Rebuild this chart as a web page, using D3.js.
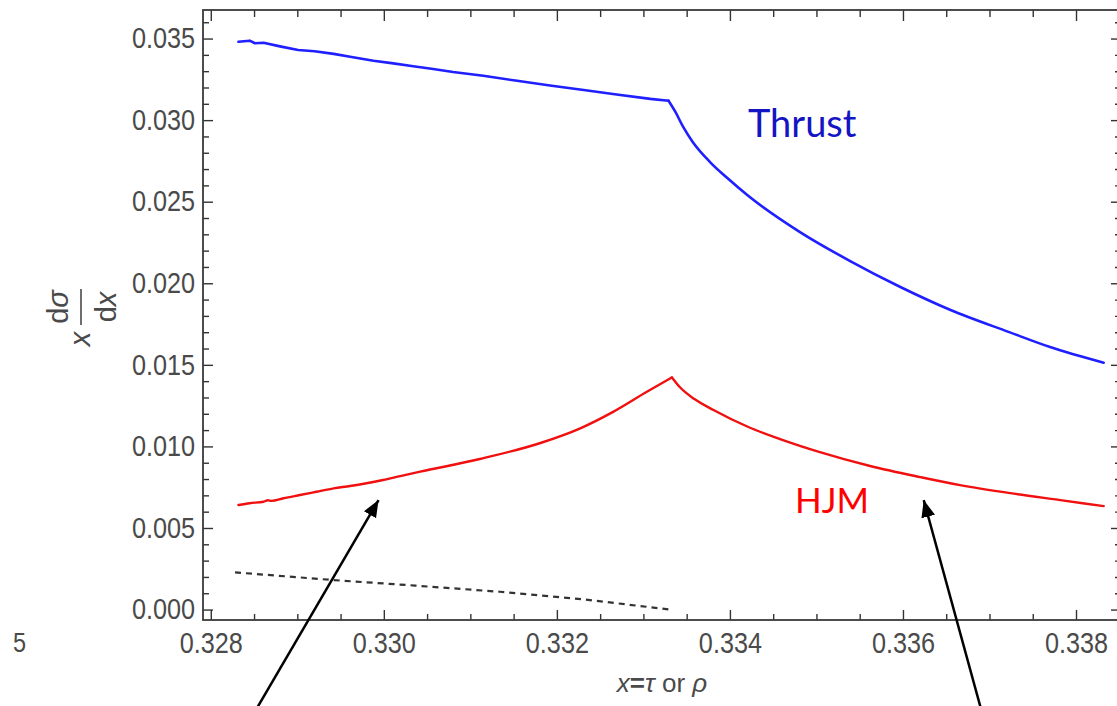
<!DOCTYPE html>
<html><head><meta charset="utf-8">
<script src="https://cdn.jsdelivr.net/npm/d3@7"></script>
<style>body{margin:0;background:#fff;} svg{display:block;background:#fff;}</style>
</head><body>
<svg id="c" width="1117" height="706"></svg>
<script>
// ---------- data ----------
const thrustX = [0.32832,0.32845,0.32851,0.32861,0.32880,0.32901,0.32920,0.32942,0.32961,0.32988,0.33011,0.33034,0.33057,0.33080,0.33115,0.33154,0.33192,0.33231,0.33269,0.33308,0.33329,
                 0.33337,0.33346,0.33357,0.33377,0.33397,0.33420,0.33481,0.33539,0.33597,0.33655,0.33722,0.33770,0.33832];
const thrustY = [0.03480,0.03487,0.03471,0.03474,0.03452,0.03430,0.03422,0.03406,0.03388,0.03364,0.03348,0.03330,0.03313,0.03295,0.03272,0.03241,0.03212,0.03185,0.03157,0.03130,0.03119,
                 0.03050,0.02958,0.02866,0.02743,0.02645,0.02541,0.02314,0.02136,0.01977,0.01836,0.01702,0.01609,0.01513];
const hjmX = [0.32832,0.32845,0.32861,0.32866,0.32870,0.32884,0.32903,0.32922,0.32942,0.32961,0.32980,0.32999,0.33019,0.33042,0.33111,0.33181,0.33227,0.33265,0.33304,0.33333,
              0.33342,0.33359,0.33381,0.33420,0.33458,0.33504,0.33562,0.33620,0.33666,0.33724,0.33782,0.33832];
const hjmY = [0.00641,0.00652,0.00661,0.00670,0.00666,0.00682,0.00702,0.00722,0.00743,0.00757,0.00774,0.00794,0.00818,0.00845,0.00923,0.01021,0.01111,0.01212,0.01335,0.01423,
              0.01364,0.01290,0.01223,0.01122,0.01045,0.00965,0.00880,0.00812,0.00763,0.00714,0.00671,0.00634];
const dashX = [0.32828,0.32941,0.33036,0.33134,0.33230,0.33331];
const dashY = [0.00228,0.00181,0.00147,0.00109,0.00063,0.00000];
const breakX = 1/3;

const xTicks = [0.328,0.330,0.332,0.334,0.336,0.338];
const xTickLabels = ["0.328","0.330","0.332","0.334","0.336","0.338"];
const xMinorStep = 0.0005;
const yTicks = [0,0.005,0.010,0.015,0.020,0.025,0.030,0.035];
const yTickLabels = ["0.000","0.005","0.010","0.015","0.020","0.025","0.030","0.035"];
const yMinorStep = 0.001;

// annotation arrows: [tailX, tailY, tipX, tipY] in data units
const arrows = [[0.328419,-0.00708,0.329939,0.00671],[0.336953,-0.00708,0.336240,0.00671]];

// ---------- layout ----------
const svg = d3.select("#c");
const x = d3.scaleLinear().domain([0.32791,0.33852]).range([203,1121]);
const y = d3.scaleLinear().domain([-0.00064,0.03675]).range([620,10]);
const [x0,x1] = x.range(), [y0,y1] = y.range();
const tickColor = "#333", labelColor = "#4a4a4a";
const labelFont = "'Liberation Sans', Arial, sans-serif";
const sx = 0.87;

const xMinor = d3.range(0.3275, 0.3386, xMinorStep).filter(v => x(v) > x0 && x(v) < x1 && !xTicks.some(t => Math.abs(t-v) < 1e-7));
const yMinor = d3.range(0, 0.0369, yMinorStep).filter(v => !yTicks.some(t => Math.abs(t-v) < 1e-7));

function styleAxis(g){
  g.select(".domain").remove();
  g.selectAll(".tick line").attr("stroke", tickColor).attr("stroke-width", 1.4);
  g.selectAll(".tick text").attr("fill", labelColor).style("font-family", labelFont).style("font-size","29px")
    .attr("transform", `scale(${sx},1)`);
}

// bottom
svg.append("g").attr("transform",`translate(0,${y0})`)
  .call(d3.axisBottom(x).tickValues(xTicks).tickFormat((d,i)=>xTickLabels[i]).tickSize(-10).tickPadding(12)).call(styleAxis);
svg.append("g").attr("transform",`translate(0,${y0})`)
  .call(d3.axisBottom(x).tickValues(xMinor).tickFormat("").tickSize(-6)).call(styleAxis);
// top
svg.append("g").attr("transform",`translate(0,${y1})`)
  .call(d3.axisTop(x).tickValues(xTicks).tickFormat("").tickSize(-11)).call(styleAxis);
svg.append("g").attr("transform",`translate(0,${y1})`)
  .call(d3.axisTop(x).tickValues(xMinor).tickFormat("").tickSize(-7)).call(styleAxis);
// left
svg.append("g").attr("transform",`translate(${x0},0)`)
  .call(d3.axisLeft(y).tickValues(yTicks).tickFormat((d,i)=>yTickLabels[i]).tickSize(-10).tickPadding(8/sx)).call(styleAxis);
svg.append("g").attr("transform",`translate(${x0},0)`)
  .call(d3.axisLeft(y).tickValues(yMinor).tickFormat("").tickSize(-6)).call(styleAxis);
// right
svg.append("g").attr("transform",`translate(${x1},0)`)
  .call(d3.axisRight(y).tickValues(yTicks).tickFormat("").tickSize(-10)).call(styleAxis);
svg.append("g").attr("transform",`translate(${x1},0)`)
  .call(d3.axisRight(y).tickValues(yMinor).tickFormat("").tickSize(-6)).call(styleAxis);

// frame
svg.append("rect").attr("x",x0).attr("y",y1).attr("width",x1-x0).attr("height",y0-y1)
  .attr("fill","none").attr("stroke","#3a3a3a").attr("stroke-width",1.8);

// ---------- curves ----------
const lineLin = d3.line().x(d=>x(d[0])).y(d=>y(d[1])).curve(d3.curveLinear);
const lineSmooth = d3.line().x(d=>x(d[0])).y(d=>y(d[1])).curve(d3.curveMonotoneX);
function drawSplit(xs, ys, color, w, leftGen){
  const pts = xs.map((v,i)=>[v, ys[i]]);
  const left = pts.filter(p => p[0] <= breakX);
  const right = [left[left.length-1]].concat(pts.filter(p => p[0] > breakX));
  [[left, leftGen], [right, lineSmooth]].forEach(([seg, gen]) => svg.append("path").attr("d", gen(seg)).attr("fill","none")
    .attr("stroke", color).attr("stroke-width", w).attr("stroke-linejoin","round").attr("stroke-linecap","round"));
}
drawSplit(thrustX, thrustY, "#1f1fff", 2.6, lineLin);
drawSplit(hjmX, hjmY, "#f01010", 2.4, lineSmooth);
svg.append("path").attr("d", lineLin(dashX.map((v,i)=>[v,dashY[i]])))
  .attr("fill","none").attr("stroke","#333").attr("stroke-width",2.2).attr("stroke-dasharray","6,5");

// ---------- labels ----------
svg.append("text").attr("x",748).attr("y",137).text("Thrust")
  .style("font-family","Lato, 'Open Sans', sans-serif").style("font-size","38px").attr("fill","#1414c4");
svg.append("text").attr("x",795).attr("y",513).text("HJM")
  .style("font-family","Lato, 'Open Sans', sans-serif").style("font-size","35px").attr("fill","#ff0000");

// x-axis title
const xt = svg.append("text").attr("x",662).attr("y",692).attr("text-anchor","middle")
  .style("font-family",labelFont).style("font-size","26px").attr("fill",labelColor);
xt.append("tspan").style("font-style","italic").text("x");
xt.append("tspan").style("font-weight","bold").text("=");
xt.append("tspan").style("font-style","italic").text("τ");
xt.append("tspan").text(" or ");
xt.append("tspan").style("font-style","italic").text("ρ");

// y-axis title (rotated)
const yt = svg.append("g").attr("transform","translate(81,307) rotate(-90)")
  .style("font-family",labelFont).attr("fill",labelColor);
yt.append("line").attr("x1",-18).attr("x2",18).attr("y1",0).attr("y2",0).attr("stroke",labelColor).attr("stroke-width",1.6);
const num = yt.append("text").attr("x",0).attr("y",-13).attr("text-anchor","middle").style("font-size","29px");
num.append("tspan").text("d"); num.append("tspan").style("font-style","italic").text("σ");
const den = yt.append("text").attr("x",0).attr("y",35).attr("text-anchor","middle").style("font-size","29px");
den.append("tspan").text("d"); den.append("tspan").style("font-style","italic").text("x");
yt.append("text").attr("x",-32).attr("y",9).attr("text-anchor","middle").style("font-size","29px").style("font-style","italic").text("x");

// stray "5"
svg.append("text").attr("x",13/sx).attr("y",652).attr("transform",`scale(${sx},1)`).text("5")
  .style("font-family",labelFont).style("font-size","27px").attr("fill",labelColor);

// ---------- arrows ----------
const defs = svg.append("defs");
defs.append("marker").attr("id","ah").attr("markerUnits","userSpaceOnUse")
  .attr("markerWidth",20).attr("markerHeight",16).attr("refX",17).attr("refY",7)
  .attr("orient","auto").append("path").attr("d","M0,0 L17,7 L0,14 Z").attr("fill","#000");
arrows.forEach(a => {
  svg.append("line").attr("x1",x(a[0])).attr("y1",y(a[1])).attr("x2",x(a[2])).attr("y2",y(a[3]))
    .attr("stroke","#000").attr("stroke-width",2.5).attr("marker-end","url(#ah)");
});
</script>
</body></html>
